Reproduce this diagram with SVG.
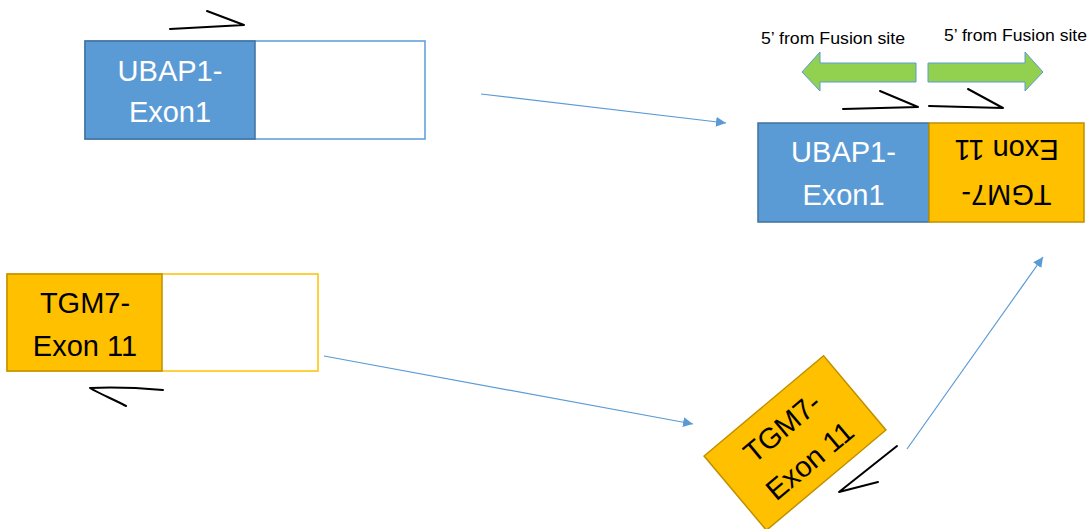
<svg xmlns="http://www.w3.org/2000/svg" width="1090" height="529" viewBox="0 0 1090 529">
<style>
.blue{fill:#5B9BD5;stroke:#41719C;stroke-width:1.5}
.blueo{fill:#FFFFFF;stroke:#5B9BD5;stroke-width:1.5}
.yel{fill:#FFC000;stroke:#BF9000;stroke-width:1.5}
.yelo{fill:#FFFFFF;stroke:#FFC000;stroke-width:1.5}
.big{font-family:"Liberation Sans",Arial,sans-serif;font-size:29px;text-anchor:middle}
.w{fill:#FFFFFF}
.k{fill:#000000}
.pen{fill:none;stroke:#000000;stroke-width:2;stroke-linecap:round;stroke-linejoin:round}
.green{fill:#92D050;stroke:#5B9BD5;stroke-width:1}
.lbl{font-family:"Liberation Sans",Arial,sans-serif;font-size:16px;fill:#000000}
.conn{fill:none;stroke:#5B9BD5;stroke-width:1.2}
</style>
<defs>
<marker id="ah" viewBox="0 0 10 10" refX="10" refY="5" markerWidth="10" markerHeight="10" markerUnits="userSpaceOnUse" orient="auto">
<path d="M0,0 L10,5 L0,10 Z" fill="#5B9BD5"/>
</marker>
</defs>

<g id="ubap1-source">
<rect class="blueo" x="85" y="41" width="340" height="98"/>
<rect class="blue" x="85" y="41" width="170" height="98"/>
<text class="big w" x="170" y="81">UBAP1-</text>
<text class="big w" x="170" y="122">Exon1</text>
<polyline class="pen" points="170,29 244,25 207,11"/>
</g>

<g id="tgm7-source">
<rect class="yelo" x="7" y="274" width="311" height="97"/>
<rect class="yel" x="7" y="274" width="155" height="97"/>
<text class="big k" x="85" y="313">TGM7-</text>
<text class="big k" x="85" y="356">Exon 11</text>
<path class="pen" d="M163,390 C140,388 110,387 90,388 C100,394 115,400 126,406"/>
</g>

<g id="tgm7-rotated">
<g transform="translate(795,443) rotate(-40)">
<rect class="yel" x="-78" y="-48.5" width="156" height="97"/>
<text class="big k" x="0" y="-10">TGM7-</text>
<text class="big k" x="0" y="33">Exon 11</text>
</g>
<polyline class="pen" points="897,446 839,492 878,482"/>
</g>

<g id="fusion">
<rect class="blue" x="758" y="123" width="171" height="99"/>
<rect class="yel" x="929" y="123" width="155" height="99"/>
<text class="big w" x="843.5" y="162">UBAP1-</text>
<text class="big w" x="843.5" y="205">Exon1</text>
<g transform="rotate(180,1006.5,172.5)">
<text class="big k" x="1006.5" y="160">TGM7-</text>
<text class="big k" x="1006.5" y="205">Exon 11</text>
</g>
<polyline class="pen" points="843,109 918,107 880,91"/>
<polyline class="pen" points="929,106 1003,108 968,89"/>
</g>

<g id="left-arrow">
<path class="green" d="M802,72 L820,52 L820,63 L916,63 L916,82 L820,82 L820,91 Z"/>
<text class="lbl" x="761" y="44" textLength="144" lengthAdjust="spacingAndGlyphs">5’ from Fusion site</text>
</g>
<g id="right-arrow">
<path class="green" d="M1043,72 L1025,52 L1025,63 L928,63 L928,82 L1025,82 L1025,91 Z"/>
<text class="lbl" x="944" y="41" textLength="143" lengthAdjust="spacingAndGlyphs">5’ from Fusion site</text>
</g>

<g id="connectors">
<line class="conn" x1="481" y1="94" x2="726" y2="123" marker-end="url(#ah)"/>
<line class="conn" x1="324" y1="356" x2="693" y2="424" marker-end="url(#ah)"/>
<line class="conn" x1="907" y1="449" x2="1043" y2="257" marker-end="url(#ah)"/>
</g>
</svg>
